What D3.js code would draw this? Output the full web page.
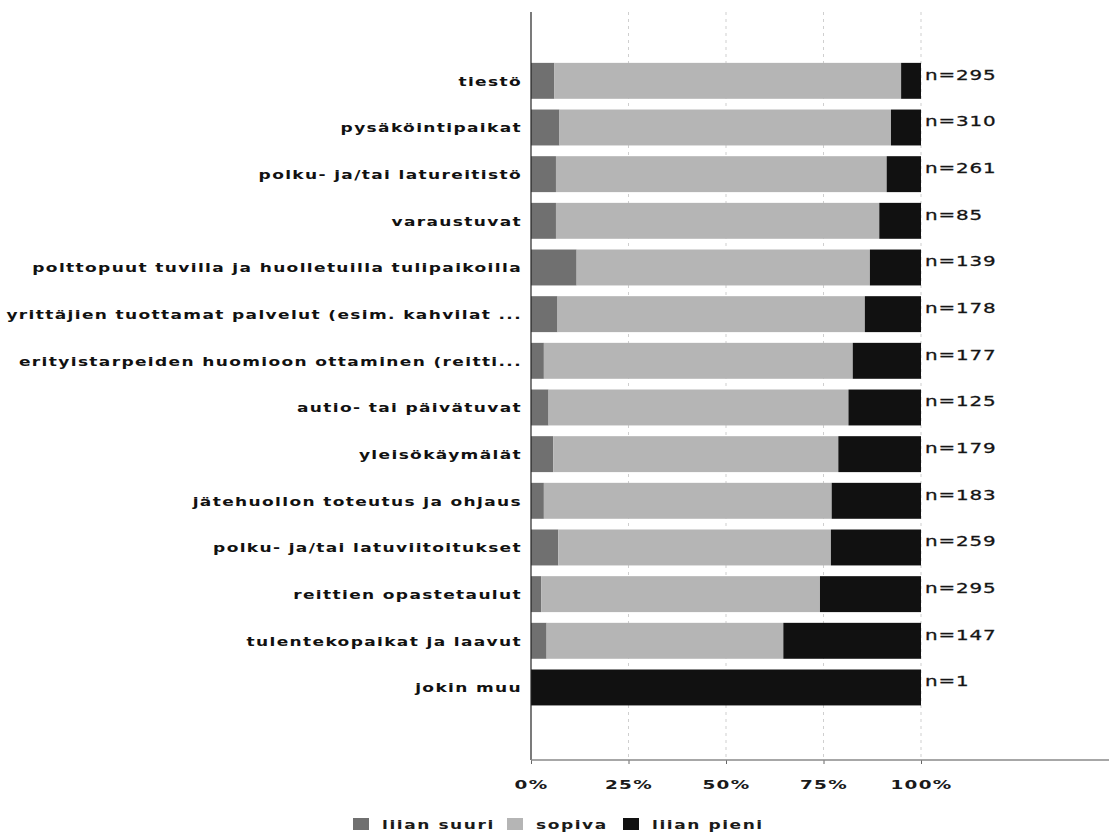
<!DOCTYPE html>
<html>
<head>
<meta charset="utf-8">
<script src="https://cdn.jsdelivr.net/npm/d3@7"></script>
<style>
  body { margin: 0; background: #fff; }
  text { font-family: "DejaVu Sans", Verdana, sans-serif; }
</style>
</head>
<body>
<div id="chart"></div>
<script>
const categories = [
  "tiestö",
  "pysäköintipaikat",
  "polku- ja/tai latureitistö",
  "varaustuvat",
  "polttopuut tuvilla ja huolletuilla tulipaikoilla",
  "yrittäjien tuottamat palvelut (esim. kahvilat ...",
  "erityistarpeiden huomioon ottaminen (reitti...",
  "autio- tai päivätuvat",
  "yleisökäymälät",
  "jätehuollon toteutus ja ohjaus",
  "polku- ja/tai latuviitoitukset",
  "reittien opastetaulut",
  "tulentekopaikat ja laavut",
  "jokin muu"
];
const liianSuuri = [6.0, 7.3, 6.4, 6.4, 11.7, 6.8, 3.3, 4.5, 5.7, 3.3, 7.0, 2.6, 4.0, 0];
const sopiva     = [88.9, 85.0, 84.8, 82.9, 75.2, 78.8, 79.2, 76.9, 73.1, 73.8, 69.9, 71.5, 60.7, 0];
const liianPieni = [5.1, 7.7, 8.8, 10.7, 13.1, 14.4, 17.5, 18.6, 21.2, 22.9, 23.1, 25.9, 35.3, 100];
const nValues = [295, 310, 261, 85, 139, 178, 177, 125, 179, 183, 259, 295, 147, 1];
const seriesNames = ["liian suuri", "sopiva", "liian pieni"];
const xTicks = [0, 25, 50, 75, 100];

const colors = { "liian suuri": "#707070", "sopiva": "#b5b5b5", "liian pieni": "#111111" };
const stretch = "scale(1.42,1)";

const W = 1109, H = 834;
const plot = { left: 531, right: 921, top: 12, bottom: 760 };

const svg = d3.select("#chart").append("svg")
  .attr("width", W)
  .attr("height", H);

const rows = categories.map((c, i) => ({
  cat: c,
  "liian suuri": liianSuuri[i],
  "sopiva": sopiva[i],
  "liian pieni": liianPieni[i],
  n: nValues[i]
}));

const x = d3.scaleLinear().domain([0, 100]).range([plot.left, plot.right]);

const y = d3.scaleBand()
  .domain(categories)
  .range([57.5, 710.8])
  .paddingInner(0.23)
  .paddingOuter(0.115);

// Grid (dashed)
svg.append("g")
  .selectAll("line")
  .data(xTicks.filter(d => d > 0))
  .join("line")
  .attr("x1", d => x(d)).attr("x2", d => x(d))
  .attr("y1", plot.top).attr("y2", plot.bottom)
  .attr("stroke", "#cfcfcf")
  .attr("stroke-dasharray", "3,4");

// Bars
const stacked = d3.stack().keys(seriesNames)(rows);

svg.append("g")
  .selectAll("g")
  .data(stacked)
  .join("g")
  .attr("fill", d => colors[d.key])
  .selectAll("rect")
  .data(d => d)
  .join("rect")
  .attr("x", d => x(d[0]))
  .attr("y", d => y(d.data.cat))
  .attr("width", d => x(d[1]) - x(d[0]))
  .attr("height", y.bandwidth());

// Y axis line
svg.append("line")
  .attr("x1", plot.left).attr("x2", plot.left)
  .attr("y1", plot.top).attr("y2", plot.bottom)
  .attr("stroke", "#222")
  .attr("stroke-width", 1.2);

// Category labels
svg.append("g")
  .selectAll("text")
  .data(categories)
  .join("text")
  .attr("transform", d => `translate(${plot.left - 9},${y(d) + y.bandwidth() / 2 + 5}) ${stretch}`)
  .attr("text-anchor", "end")
  .attr("font-size", 12)
  .attr("font-weight", "bold")
  .attr("letter-spacing", 0.95)
  .attr("fill", "#111")
  .text(d => d);

// n labels
svg.append("g")
  .selectAll("text")
  .data(rows)
  .join("text")
  .attr("transform", d => `translate(${plot.right + 4},${y(d.cat) + y.bandwidth() / 2 - 1}) ${stretch}`)
  .attr("font-size", 14)
  .attr("letter-spacing", 0.6)
  .attr("stroke", "#222")
  .attr("stroke-width", 0.3)
  .attr("fill", "#111")
  .text(d => `n=${d.n}`);

// X axis
const xAxis = svg.append("g")
  .attr("transform", `translate(0,${plot.bottom})`)
  .call(d3.axisBottom(x).tickValues(xTicks).tickFormat(d => d + "%").tickSize(4).tickSizeOuter(0));
xAxis.select(".domain").remove();
xAxis.selectAll(".tick line").attr("stroke", "#666");
xAxis.append("line")
  .attr("x1", plot.left).attr("x2", W)
  .attr("stroke", "#8a8a8a")
  .attr("stroke-width", 1.5);
xAxis.selectAll(".tick text")
  .attr("y", 0).attr("dy", null)
  .attr("transform", `translate(0,29) ${stretch}`)
  .attr("font-family", "DejaVu Sans, sans-serif")
  .attr("font-size", 13)
  .attr("font-weight", "bold")
  .attr("letter-spacing", 0.9)
  .attr("fill", "#1a1a1a");

// Legend
const legendItems = [
  { key: "liian suuri", x: 353 },
  { key: "sopiva", x: 507 },
  { key: "liian pieni", x: 623 }
];
const legend = svg.append("g")
  .selectAll("g")
  .data(legendItems)
  .join("g")
  .attr("transform", d => `translate(${d.x},818)`);
legend.append("rect")
  .attr("width", 16).attr("height", 12)
  .attr("fill", d => colors[d.key]);
legend.append("text")
  .attr("transform", `translate(29,11) ${stretch}`)
  .attr("font-size", 12)
  .attr("font-weight", "bold")
  .attr("letter-spacing", 1.1)
  .attr("fill", "#1a1a1a")
  .text(d => d.key);
</script>
</body>
</html>
